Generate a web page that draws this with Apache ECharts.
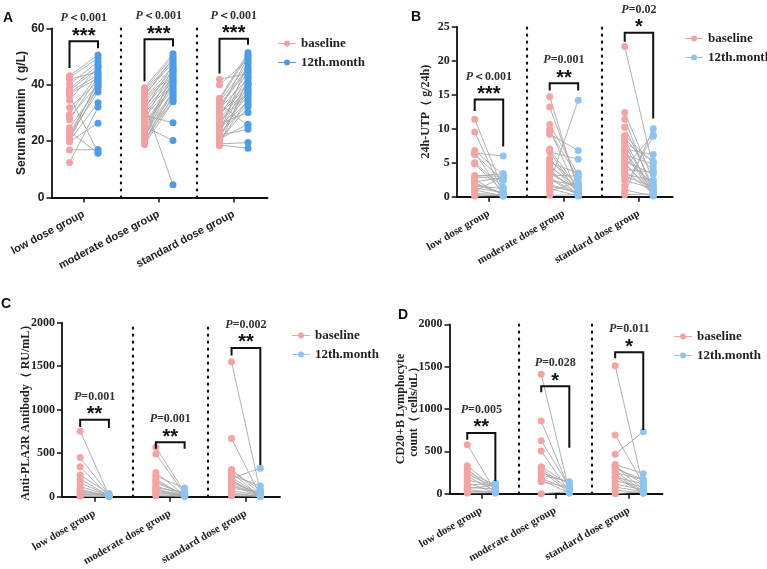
<!DOCTYPE html>
<html>
<head>
<meta charset="utf-8">
<script src="https://cdn.jsdelivr.net/npm/echarts@6/dist/echarts.min.js"></script>
<style>html,body{margin:0;background:#fff}#main{width:767px;height:569px}</style>
</head>
<body>
<div id="main"></div>
<script>
const groups = ['low dose group', 'moderate dose group', 'standard dose group'];

// A: serum albumin, baseline[i] paired with month12[i]
const albBase = [
  [43.2, 42.6, 42.0, 40.2, 38.6, 38.0, 37.4, 36.9, 36.0, 31.9, 29.5, 28.6, 27.6, 24.8, 22.6, 21.9, 21.2, 20.6, 20.2, 19.8, 16.9, 12.4, 34.5, 23.5],
  [39.0, 38.2, 37.5, 36.8, 36.0, 35.2, 34.5, 33.8, 33.0, 32.3, 31.5, 30.8, 30.0, 29.2, 28.5, 27.6, 26.8, 26.0, 25.2, 24.4, 23.5, 22.7, 22.0, 21.3, 20.6, 20.0, 19.4, 18.8, 21.8, 24.0],
  [42.0, 40.0, 35.2, 34.6, 34.0, 33.4, 32.8, 32.2, 31.5, 30.8, 30.2, 29.5, 28.8, 28.2, 27.5, 26.8, 26.2, 25.5, 24.8, 24.2, 23.5, 22.8, 22.2, 21.5, 20.8, 20.2, 19.6, 19.0, 18.6, 18.4, 21.0, 23.0]
];
const alb12 = [
  [50.6, 49.4, 44.6, 48.2, 47.0, 45.8, 43.5, 42.3, 16.1, 41.1, 44.0, 39.9, 42.8, 38.7, 40.5, 37.5, 41.6, 39.2, 33.6, 26.4, 17.0, 32.1, 46.4, 15.7],
  [51.0, 50.2, 48.8, 47.9, 49.5, 46.5, 45.2, 44.4, 4.5, 43.6, 47.0, 42.5, 41.2, 26.5, 40.3, 45.8, 39.5, 38.6, 20.2, 43.0, 37.4, 36.5, 35.2, 41.8, 34.3, 38.0, 36.0, 34.0, 44.8, 40.8],
  [44.0, 49.0, 51.4, 50.5, 47.5, 25.5, 46.2, 45.5, 42.2, 49.8, 40.5, 39.6, 44.8, 38.5, 37.4, 36.8, 30.2, 43.2, 36.0, 34.2, 41.0, 33.0, 24.2, 38.0, 26.0, 32.2, 35.0, 19.5, 17.5, 42.5, 40.0, 48.0]
];
const albBracket = [[55.5, 46.0, 53.0], [56.2, 41.3, 53.6], [56.4, 44.0, 54.2]];
const albP = ['＜0.001', '＜0.001', '＜0.001'];
const albStars = ['***', '***', '***'];

// B: 24h urine protein
const utpBase = [
  [11.4, 9.5, 6.8, 6.5, 6.4, 6.2, 5.0, 4.8, 3.1, 3.0, 2.9, 2.5, 2.2, 1.9, 1.6, 1.3, 1.0, 0.8, 0.5, 0.3, 2.0, 0.1],
  [14.7, 13.2, 10.6, 9.9, 9.6, 9.2, 7.0, 6.7, 6.6, 5.3, 5.0, 4.7, 4.4, 4.0, 3.6, 3.2, 2.8, 2.4, 2.0, 1.6, 1.2, 0.8, 0.2, 5.6, 3.4, 2.6, 1.8],
  [22.1, 12.4, 11.4, 10.2, 8.7, 8.4, 8.0, 7.5, 7.0, 6.5, 6.1, 5.6, 5.2, 4.8, 4.3, 3.8, 3.3, 2.4, 1.6, 1.0, 0.6, 0.3, 9.0, 4.0, 6.8, 3.0, 5.0]
];
const utp12 = [
  [1.0, 0.5, 3.2, 0.3, 6.0, 2.4, 1.4, 0.8, 3.0, 3.4, 2.6, 0.2, 2.8, 0.4, 1.2, 0.6, 0.1, 3.0, 0.3, 0.1, 0.5, 0.2],
  [0.9, 1.6, 3.2, 0.5, 2.8, 6.8, 1.2, 0.3, 5.5, 1.9, 3.5, 0.7, 1.4, 0.2, 1.0, 3.0, 0.4, 1.7, 14.2, 0.6, 0.1, 2.2, 0.3, 0.8, 1.1, 0.2, 0.5],
  [4.3, 2.4, 0.6, 1.4, 3.7, 0.3, 5.2, 1.0, 6.2, 0.2, 4.8, 1.9, 3.3, 0.8, 9.1, 0.5, 2.4, 1.2, 8.9, 0.1, 10.0, 0.4, 5.0, 3.6, 0.6, 1.5, 0.3]
];
const utpBracket = [[14.3, 12.6, 7.4], [16.7, 15.6, 15.6], [24.1, 22.8, 11.5]];
const utpP = ['＜0.001', '=0.001', '=0.02'];
const utpStars = ['***', '**', '*'];

// C: anti-PLA2R antibody
const plaBase = [
  [752, 450, 344, 248, 202, 115, 88, 50, 27, 11, 160, 70, 35, 5],
  [569, 492, 279, 237, 202, 160, 126, 103, 76, 50, 27, 11, 180, 60, 90],
  [1550, 668, 313, 294, 275, 248, 221, 210, 191, 160, 126, 95, 69, 46, 27, 11, 140, 180]
];
const pla12 = [
  [15, 27, 8, 38, 11, 19, 4, 27, 11, 4, 15, 8, 19, 2],
  [50, 27, 15, 99, 8, 27, 11, 50, 15, 8, 4, 2, 20, 10, 5],
  [57, 15, 34, 80, 4, 122, 15, 328, 8, 34, 4, 57, 15, 4, 8, 2, 20, 10]
];
const plaBracket = [[884, 800, 790], [627, 550, 550], [1710, 1624, 365]];
const plaP = ['=0.001', '=0.001', '=0.002'];
const plaStars = ['**', '**', '**'];

// D: CD20+ B lymphocyte count
const cdBase = [
  [579, 331, 291, 252, 205, 165, 130, 102, 75, 51, 24, 8, 230, 60],
  [1409, 858, 626, 504, 319, 280, 220, 181, 142, 0, 250, 160, 300],
  [1512, 693, 465, 346, 323, 299, 268, 232, 193, 154, 114, 79, 43, 0, 250, 200, 320]
];
const cd12 = [
  [31, 55, 12, 102, 31, 79, 12, 122, 55, 8, 31, 12, 79, 102],
  [31, 55, 79, 24, 110, 8, 142, 47, 79, 24, 130, 8, 47],
  [79, 118, 732, 236, 47, 165, 24, 8, 118, 79, 47, 24, 8, 24, 165, 8, 118]
];
const cdBracket = [[717, 638, 150], [1268, 1197, 543], [1669, 1598, 752]];
const cdP = ['=0.005', '=0.028', '=0.011'];
const cdStars = ['**', '*', '*'];

const SANS = '"Liberation Sans", Arial, sans-serif';
const SERIF = '"Liberation Serif", "Times New Roman", serif';
const OFF = 0.19;
const LEG_ICON = 'path://M0,5h36v2H0z M18,0a6,6 0 1,1 0,12a6,6 0 1,1 0,-12z';

const panels = [
  {base: albBase, m12: alb12, br: albBracket, pv: albP, st: albStars, yMax: 60, yStep: 20,
   name: 'Serum albumin（ g/L)', fam: SANS, grid: {left: 51.5, top: 28.5, width: 216, height: 169},
   nameGap: 23, rot: 28, blue: '#4B9DEA', pink: '#F4A0A4', leg: {left: 273, top: 32}, letter: 'A', lx: 3, ly: 11},
  {base: utpBase, m12: utp12, br: utpBracket, pv: utpP, st: utpStars, yMax: 25, yStep: 5,
   name: '24h-UTP（ g/24h)', fam: SERIF, grid: {left: 456.7, top: 26.7, width: 216, height: 170},
   nameGap: 24, rot: 30, blue: '#8EC4F2', pink: '#F5A3A3', leg: {left: 680, top: 27}, letter: 'B', lx: 411, ly: 10},
  {base: plaBase, m12: pla12, br: plaBracket, pv: plaP, st: plaStars, yMax: 2000, yStep: 500,
   name: 'Anti-PLA2R Antibody（ RU/mL）', fam: SERIF, grid: {left: 62, top: 322.7, width: 218, height: 174},
   nameGap: 30, rot: 30, blue: '#8EC4F2', pink: '#F5A3A3', leg: {left: 287, top: 324}, letter: 'C', lx: 1, ly: 297},
  {base: cdBase, m12: cd12, br: cdBracket, pv: cdP, st: cdStars, yMax: 2000, yStep: 500,
   name: 'CD20+B Lymphocyte\ncount（ cells/uL）', fam: SERIF, grid: {left: 449.5, top: 324.3, width: 213, height: 169.4},
   nameGap: 29, rot: 30, blue: '#8EC4F2', pink: '#F5A3A3', leg: {left: 669, top: 325}, letter: 'D', lx: 398, ly: 308}
];

const chart = echarts.init(document.getElementById('main'));
const grid = [], xAxis = [], yAxis = [], series = [], legend = [], graphic = [];

panels.forEach(function (p, i) {
  grid.push(p.grid);
  xAxis.push({
    type: 'value', gridIndex: i, min: 0.57, max: 3.45,
    axisLine: {lineStyle: {color: '#111', width: 1.8}},
    axisTick: {customValues: [1, 2, 3], length: 5, lineStyle: {color: '#111', width: 1.5}},
    axisLabel: {customValues: [1, 2, 3], rotate: p.rot, margin: 16, color: '#222',
      fontWeight: 'bold', fontSize: 11, fontFamily: p.fam,
      formatter: function (v) { return groups[Math.round(v) - 1]; }},
    splitLine: {show: false}
  });
  yAxis.push({
    type: 'value', gridIndex: i, min: 0, max: p.yMax, interval: p.yStep,
    name: p.name, nameLocation: 'middle', nameGap: p.nameGap, nameRotate: 90, nameMoveOverlap: false,
    nameTextStyle: {fontWeight: 'bold', fontSize: 12, fontFamily: p.fam, color: '#222', lineHeight: 13},
    axisLine: {show: true, lineStyle: {color: '#111', width: 1.8}},
    axisTick: {show: true, length: 5, lineStyle: {color: '#111', width: 1.5}},
    axisLabel: {color: '#222', fontWeight: 'bold', fontSize: 12, fontFamily: p.fam, margin: 7,
      formatter: function (v) { return String(v); }},
    splitLine: {show: false}
  });

  const pairs = [];
  p.base.forEach(function (arr, g) {
    arr.forEach(function (b, k) {
      pairs.push({coords: [[g + 1 - OFF, b], [g + 1 + OFF, p.m12[g][k]]]});
    });
  });
  series.push({
    type: 'lines', coordinateSystem: 'cartesian2d', xAxisIndex: i, yAxisIndex: i,
    data: pairs, silent: true, z: 1,
    lineStyle: {color: '#A8A8A8', width: 0.9, opacity: 1}
  });
  series.push({
    type: 'scatter', name: 'baseline', xAxisIndex: i, yAxisIndex: i, z: 3,
    symbolSize: 7, itemStyle: {color: p.pink, opacity: 1},
    data: p.base.flatMap(function (arr, g) { return arr.map(function (v) { return [g + 1 - OFF, v]; }); }),
    markLine: {
      silent: true, symbol: ['none', 'none'], label: {show: false},
      lineStyle: {color: '#111', type: [1, 6], width: 2.2, cap: 'round'},
      data: [{xAxis: 1.5}, {xAxis: 2.5}]
    }
  });
  series.push({
    type: 'scatter', name: '12th.month', xAxisIndex: i, yAxisIndex: i, z: 3,
    symbolSize: 7, itemStyle: {color: p.blue, opacity: 1},
    data: p.m12.flatMap(function (arr, g) { return arr.map(function (v) { return [g + 1 + OFF, v]; }); })
  });
  series.push({
    type: 'custom', xAxisIndex: i, yAxisIndex: i, z: 5, silent: true,
    data: p.br.map(function (b, g) { return [g + 1, b[0], b[1], b[2]]; }),
    renderItem: function (params, api) {
      const g = api.value(0), top = api.value(1);
      const a = api.coord([g - OFF, api.value(2)]);
      const b = api.coord([g - OFF, top]);
      const c = api.coord([g + OFF, top]);
      const d = api.coord([g + OFF, api.value(3)]);
      const idx = params.dataIndex;
      return {
        type: 'group',
        children: [
          {type: 'polyline', shape: {points: [a, b, c, d]},
           style: {stroke: '#111', lineWidth: 2, fill: null}},
          {type: 'text', x: (b[0] + c[0]) / 2, y: b[1] - 5,
           style: {text: p.st[idx], fill: '#111', align: 'center', verticalAlign: 'middle',
                   font: 'bold 20px ' + SANS}},
          {type: 'text', x: (b[0] + c[0]) / 2, y: b[1] - 23,
           style: {text: '{i|P}{n|' + p.pv[idx] + '}', align: 'center', verticalAlign: 'middle',
                   rich: {
                     i: {fontStyle: 'italic', fontWeight: 'bold', fontSize: 12, fontFamily: SERIF, fill: '#333'},
                     n: {fontWeight: 'bold', fontSize: 12, fontFamily: SERIF, fill: '#333'}
                   }}}
        ]
      };
    }
  });

  legend.push({
    orient: 'vertical', left: p.leg.left, top: p.leg.top, itemGap: 6,
    itemWidth: 18, itemHeight: 6, icon: LEG_ICON,
    textStyle: {fontFamily: SERIF, fontWeight: 'bold', fontSize: 13, color: '#222'},
    data: [
      {name: 'baseline', itemStyle: {color: p.pink}},
      {name: '12th.month', itemStyle: {color: p.blue}}
    ]
  });

  graphic.push({
    type: 'text', left: p.lx, top: p.ly,
    style: {text: p.letter, font: 'bold 14px ' + SANS, fill: '#111'}
  });
});

chart.setOption({
  animation: false,
  backgroundColor: '#fff',
  grid: grid,
  xAxis: xAxis,
  yAxis: yAxis,
  legend: legend,
  graphic: graphic,
  series: series
});
</script>
</body>
</html>
